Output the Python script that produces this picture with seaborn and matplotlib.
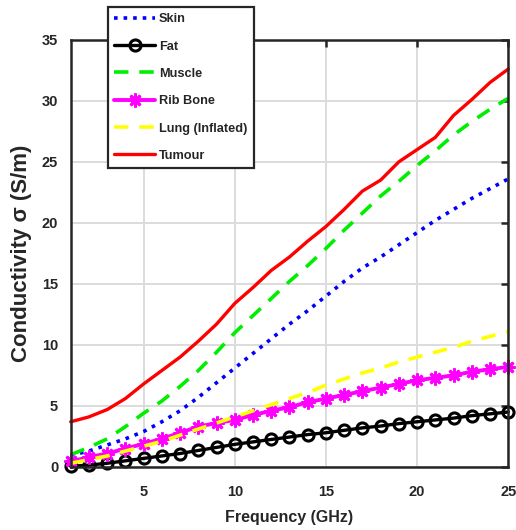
import matplotlib
matplotlib.use("Agg")
import matplotlib.pyplot as plt
import seaborn as sns
import pandas as pd

# Frequency sweep (GHz)
freq = list(range(1, 26))

# Conductivity (S/m) of each tissue
skin = [0.95, 1.3, 1.8, 2.3, 2.9, 3.7, 4.6, 5.7, 6.9, 8.1, 9.3, 10.5, 11.7, 12.8,
        14.0, 15.2, 16.3, 17.2, 18.2, 19.2, 20.2, 21.1, 22.0, 22.8, 23.6]
fat = [0.05, 0.15, 0.3, 0.5, 0.7, 0.9, 1.1, 1.35, 1.6, 1.85, 2.05, 2.25, 2.45, 2.65,
       2.8, 3.0, 3.2, 3.35, 3.55, 3.7, 3.85, 4.0, 4.2, 4.35, 4.5]
muscle = [1.0, 1.6, 2.3, 3.3, 4.4, 5.4, 6.6, 7.9, 9.4, 11.0, 12.4, 13.8, 15.2, 16.5,
          17.9, 19.4, 20.8, 22.2, 23.4, 24.7, 25.9, 27.2, 28.3, 29.3, 30.2]
rib_bone = [0.45, 0.8, 1.1, 1.5, 1.9, 2.3, 2.8, 3.3, 3.6, 3.85, 4.25, 4.6, 4.9, 5.3,
            5.6, 5.9, 6.2, 6.5, 6.8, 7.1, 7.3, 7.5, 7.8, 8.0, 8.2]
lung = [0.3, 0.6, 0.9, 1.3, 1.7, 2.1, 2.6, 3.1, 3.6, 4.1, 4.6, 5.1, 5.6, 6.1,
        6.7, 7.2, 7.7, 8.1, 8.6, 9.0, 9.4, 9.8, 10.3, 10.7, 11.1]
tumour = [3.7, 4.1, 4.7, 5.6, 6.8, 7.9, 9.0, 10.3, 11.7, 13.4, 14.7, 16.1, 17.2, 18.5,
          19.7, 21.1, 22.6, 23.5, 25.0, 26.0, 27.0, 28.8, 30.1, 31.5, 32.6]

x_ticks = [5, 10, 15, 20, 25]
y_ticks = [0, 5, 10, 15, 20, 25, 30, 35]

sns.set_style("whitegrid")
plt.rcParams["font.family"] = ["Liberation Sans", "DejaVu Sans"]
plt.rcParams["font.weight"] = "bold"

fig = plt.figure(figsize=(5.16, 5.30), dpi=100)
ax = fig.add_axes([0.137, 0.119, 0.848, 0.806])

series = [
    ("Skin", skin, dict(color="#0000ff", linestyle=":", linewidth=2.6)),
    ("Fat", fat, dict(color="black", linestyle="-", linewidth=2.4, marker="o",
                      markersize=8, markerfacecolor="none", markeredgecolor="black",
                      markeredgewidth=2.2)),
    ("Muscle", muscle, dict(color="#00ee00", linestyle=(0, (4, 3)), linewidth=2.6)),
    ("Rib Bone", rib_bone, dict(color="#ff00ff", linestyle="-", linewidth=2.8,
                                marker=(8, 2, 0), markersize=10,
                                markeredgecolor="#ff00ff", markeredgewidth=2.0)),
    ("Lung (Inflated)", lung, dict(color="#ffff00", linestyle=(0, (4, 3)), linewidth=2.6)),
    ("Tumour", tumour, dict(color="#ff0000", linestyle="-", linewidth=2.4)),
]

for name, vals, style in series:
    df = pd.DataFrame({"Frequency": freq, "Conductivity": vals})
    sns.lineplot(data=df, x="Frequency", y="Conductivity", ax=ax, label=name,
                 clip_on=False, **style)

ax.set_xlim(1, 25)
ax.set_ylim(0, 35)
ax.set_xticks(x_ticks)
ax.set_yticks(y_ticks)
ax.grid(True, color="#dcdcdc", linewidth=1.4)
ax.tick_params(direction="in", length=5, width=1.8, color="#262626",
               top=True, right=True, labelsize=10.5)
ax.tick_params(axis="x", pad=13)
ax.tick_params(axis="y", pad=9)
for lbl in ax.get_xticklabels() + ax.get_yticklabels():
    lbl.set_fontweight("bold")
for sp in ax.spines.values():
    sp.set_color("#262626")
    sp.set_linewidth(1.8)

ax.set_xlabel("Frequency (GHz)", fontsize=11.5, fontweight="bold", labelpad=8)
ax.set_ylabel("Conductivity σ (S/m)", fontsize=16, fontweight="bold", labelpad=7)

leg = ax.legend(loc="upper left", bbox_to_anchor=(0.209, 0.987),
                bbox_transform=fig.transFigure, borderaxespad=0,
                fancybox=False, framealpha=1,
                edgecolor="#262626", prop={"weight": "bold", "size": 9.2},
                handlelength=3.2, labelspacing=1.2, borderpad=0.5,
                handletextpad=0.3)
leg.get_frame().set_linewidth(1.6)

fig.savefig("out.png", dpi=100)
